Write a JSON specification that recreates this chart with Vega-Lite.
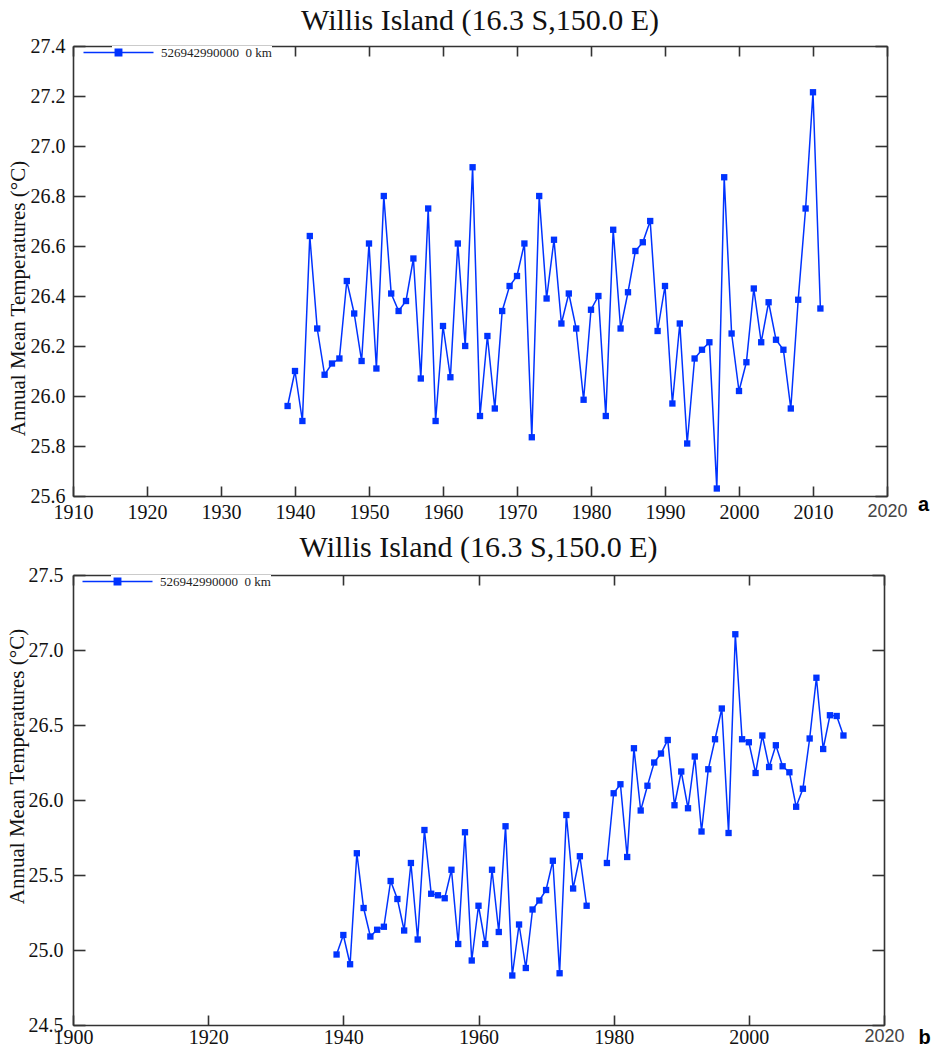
{
  "$schema": "https://vega.github.io/schema/vega-lite/v6.json",
  "background": "white",
  "padding": {"left": 6, "top": 6, "right": 0, "bottom": 0},
  "datasets": {
    "a": [
      {"year": 1939, "temp": 25.96, "seg": 1},
      {"year": 1940, "temp": 26.10, "seg": 1},
      {"year": 1941, "temp": 25.90, "seg": 1},
      {"year": 1942, "temp": 26.64, "seg": 1},
      {"year": 1943, "temp": 26.27, "seg": 1},
      {"year": 1944, "temp": 26.085, "seg": 1},
      {"year": 1945, "temp": 26.13, "seg": 1},
      {"year": 1946, "temp": 26.15, "seg": 1},
      {"year": 1947, "temp": 26.46, "seg": 1},
      {"year": 1948, "temp": 26.33, "seg": 1},
      {"year": 1949, "temp": 26.14, "seg": 1},
      {"year": 1950, "temp": 26.61, "seg": 1},
      {"year": 1951, "temp": 26.11, "seg": 1},
      {"year": 1952, "temp": 26.80, "seg": 1},
      {"year": 1953, "temp": 26.41, "seg": 1},
      {"year": 1954, "temp": 26.34, "seg": 1},
      {"year": 1955, "temp": 26.38, "seg": 1},
      {"year": 1956, "temp": 26.55, "seg": 1},
      {"year": 1957, "temp": 26.07, "seg": 1},
      {"year": 1958, "temp": 26.75, "seg": 1},
      {"year": 1959, "temp": 25.90, "seg": 1},
      {"year": 1960, "temp": 26.28, "seg": 1},
      {"year": 1961, "temp": 26.075, "seg": 1},
      {"year": 1962, "temp": 26.61, "seg": 1},
      {"year": 1963, "temp": 26.20, "seg": 1},
      {"year": 1964, "temp": 26.915, "seg": 1},
      {"year": 1965, "temp": 25.92, "seg": 1},
      {"year": 1966, "temp": 26.24, "seg": 1},
      {"year": 1967, "temp": 25.95, "seg": 1},
      {"year": 1968, "temp": 26.34, "seg": 1},
      {"year": 1969, "temp": 26.44, "seg": 1},
      {"year": 1970, "temp": 26.48, "seg": 1},
      {"year": 1971, "temp": 26.61, "seg": 1},
      {"year": 1972, "temp": 25.835, "seg": 1},
      {"year": 1973, "temp": 26.80, "seg": 1},
      {"year": 1974, "temp": 26.39, "seg": 1},
      {"year": 1975, "temp": 26.625, "seg": 1},
      {"year": 1976, "temp": 26.29, "seg": 1},
      {"year": 1977, "temp": 26.41, "seg": 1},
      {"year": 1978, "temp": 26.27, "seg": 1},
      {"year": 1979, "temp": 25.985, "seg": 1},
      {"year": 1980, "temp": 26.345, "seg": 1},
      {"year": 1981, "temp": 26.40, "seg": 1},
      {"year": 1982, "temp": 25.92, "seg": 1},
      {"year": 1983, "temp": 26.665, "seg": 1},
      {"year": 1984, "temp": 26.27, "seg": 1},
      {"year": 1985, "temp": 26.415, "seg": 1},
      {"year": 1986, "temp": 26.58, "seg": 1},
      {"year": 1987, "temp": 26.615, "seg": 1},
      {"year": 1988, "temp": 26.70, "seg": 1},
      {"year": 1989, "temp": 26.26, "seg": 1},
      {"year": 1990, "temp": 26.44, "seg": 1},
      {"year": 1991, "temp": 25.97, "seg": 1},
      {"year": 1992, "temp": 26.29, "seg": 1},
      {"year": 1993, "temp": 25.81, "seg": 1},
      {"year": 1994, "temp": 26.15, "seg": 1},
      {"year": 1995, "temp": 26.185, "seg": 1},
      {"year": 1996, "temp": 26.215, "seg": 1},
      {"year": 1997, "temp": 25.63, "seg": 1},
      {"year": 1998, "temp": 26.875, "seg": 1},
      {"year": 1999, "temp": 26.25, "seg": 1},
      {"year": 2000, "temp": 26.02, "seg": 1},
      {"year": 2001, "temp": 26.135, "seg": 1},
      {"year": 2002, "temp": 26.43, "seg": 1},
      {"year": 2003, "temp": 26.215, "seg": 1},
      {"year": 2004, "temp": 26.375, "seg": 1},
      {"year": 2005, "temp": 26.225, "seg": 1},
      {"year": 2006, "temp": 26.185, "seg": 1},
      {"year": 2007, "temp": 25.95, "seg": 1},
      {"year": 2008, "temp": 26.385, "seg": 1},
      {"year": 2009, "temp": 26.75, "seg": 1},
      {"year": 2010, "temp": 27.215, "seg": 1},
      {"year": 2011, "temp": 26.35, "seg": 1}
    ],
    "b": [
      {"year": 1939, "temp": 24.97, "seg": 1},
      {"year": 1940, "temp": 25.10, "seg": 1},
      {"year": 1941, "temp": 24.905, "seg": 1},
      {"year": 1942, "temp": 25.645, "seg": 1},
      {"year": 1943, "temp": 25.28, "seg": 1},
      {"year": 1944, "temp": 25.09, "seg": 1},
      {"year": 1945, "temp": 25.135, "seg": 1},
      {"year": 1946, "temp": 25.155, "seg": 1},
      {"year": 1947, "temp": 25.46, "seg": 1},
      {"year": 1948, "temp": 25.34, "seg": 1},
      {"year": 1949, "temp": 25.13, "seg": 1},
      {"year": 1950, "temp": 25.58, "seg": 1},
      {"year": 1951, "temp": 25.07, "seg": 1},
      {"year": 1952, "temp": 25.80, "seg": 1},
      {"year": 1953, "temp": 25.375, "seg": 1},
      {"year": 1954, "temp": 25.365, "seg": 1},
      {"year": 1955, "temp": 25.345, "seg": 1},
      {"year": 1956, "temp": 25.535, "seg": 1},
      {"year": 1957, "temp": 25.04, "seg": 1},
      {"year": 1958, "temp": 25.785, "seg": 1},
      {"year": 1959, "temp": 24.93, "seg": 1},
      {"year": 1960, "temp": 25.295, "seg": 1},
      {"year": 1961, "temp": 25.04, "seg": 1},
      {"year": 1962, "temp": 25.535, "seg": 1},
      {"year": 1963, "temp": 25.12, "seg": 1},
      {"year": 1964, "temp": 25.825, "seg": 1},
      {"year": 1965, "temp": 24.83, "seg": 1},
      {"year": 1966, "temp": 25.17, "seg": 1},
      {"year": 1967, "temp": 24.88, "seg": 1},
      {"year": 1968, "temp": 25.27, "seg": 1},
      {"year": 1969, "temp": 25.33, "seg": 1},
      {"year": 1970, "temp": 25.40, "seg": 1},
      {"year": 1971, "temp": 25.595, "seg": 1},
      {"year": 1972, "temp": 24.845, "seg": 1},
      {"year": 1973, "temp": 25.90, "seg": 1},
      {"year": 1974, "temp": 25.41, "seg": 1},
      {"year": 1975, "temp": 25.625, "seg": 1},
      {"year": 1976, "temp": 25.295, "seg": 1},
      {"year": 1979, "temp": 25.58, "seg": 2},
      {"year": 1980, "temp": 26.045, "seg": 2},
      {"year": 1981, "temp": 26.105, "seg": 2},
      {"year": 1982, "temp": 25.62, "seg": 2},
      {"year": 1983, "temp": 26.345, "seg": 2},
      {"year": 1984, "temp": 25.93, "seg": 2},
      {"year": 1985, "temp": 26.095, "seg": 2},
      {"year": 1986, "temp": 26.25, "seg": 2},
      {"year": 1987, "temp": 26.31, "seg": 2},
      {"year": 1988, "temp": 26.40, "seg": 2},
      {"year": 1989, "temp": 25.965, "seg": 2},
      {"year": 1990, "temp": 26.19, "seg": 2},
      {"year": 1991, "temp": 25.945, "seg": 2},
      {"year": 1992, "temp": 26.29, "seg": 2},
      {"year": 1993, "temp": 25.79, "seg": 2},
      {"year": 1994, "temp": 26.205, "seg": 2},
      {"year": 1995, "temp": 26.405, "seg": 2},
      {"year": 1996, "temp": 26.61, "seg": 2},
      {"year": 1997, "temp": 25.78, "seg": 2},
      {"year": 1998, "temp": 27.105, "seg": 2},
      {"year": 1999, "temp": 26.405, "seg": 2},
      {"year": 2000, "temp": 26.385, "seg": 2},
      {"year": 2001, "temp": 26.18, "seg": 2},
      {"year": 2002, "temp": 26.43, "seg": 2},
      {"year": 2003, "temp": 26.22, "seg": 2},
      {"year": 2004, "temp": 26.365, "seg": 2},
      {"year": 2005, "temp": 26.225, "seg": 2},
      {"year": 2006, "temp": 26.185, "seg": 2},
      {"year": 2007, "temp": 25.955, "seg": 2},
      {"year": 2008, "temp": 26.075, "seg": 2},
      {"year": 2009, "temp": 26.41, "seg": 2},
      {"year": 2010, "temp": 26.815, "seg": 2},
      {"year": 2011, "temp": 26.34, "seg": 2},
      {"year": 2012, "temp": 26.565, "seg": 2},
      {"year": 2013, "temp": 26.56, "seg": 2},
      {"year": 2014, "temp": 26.43, "seg": 2}
    ]
  },
  "config": {
    "view": {"stroke": null},
    "font": "Liberation Serif",
    "axis": {
      "grid": false,
      "domainColor": "#333333",
      "domainWidth": 1.6,
      "tickColor": "#333333",
      "tickWidth": 1.6,
      "labelFont": "Liberation Serif",
      "labelFontSize": 20,
      "labelColor": "#111111",
      "labelOverlap": false,
      "labelFlush": false,
      "labelBound": false,
      "titleFont": "Liberation Serif",
      "titleFontWeight": "normal",
      "titleColor": "#111111"
    },
    "title": {
      "font": "Liberation Serif",
      "fontSize": 30,
      "fontWeight": "normal",
      "color": "#111111",
      "anchor": "middle",
      "baseline": "alphabetic"
    },
    "legend": {
      "orient": "none",
      "padding": 0,
      "fillColor": "white",
      "symbolType": "M-8.75,0H8.75M-0.8,-0.8H0.8V0.8H-0.8Z",
      "symbolSize": 64,
      "symbolStrokeWidth": 1.5,
      "labelFont": "Liberation Serif",
      "labelFontSize": 13,
      "labelColor": "#222222",
      "legendY": 0,
      "title": null
    }
  },
  "spacing": 11,
  "vconcat": [
    {
      "title": {"text": "Willis Island (16.3 S,150.0 E)", "offset": 0},
      "width": 814,
      "height": 450,
      "data": {"name": "a"},
      "layer": [
        {
          "mark": {"type": "line", "strokeWidth": 1.5},
          "encoding": {
            "x": {
              "field": "year", "type": "quantitative",
              "scale": {"domain": [1910, 2020], "nice": false, "zero": false},
              "axis": {
                "orient": "bottom",
                "values": [1910, 1920, 1930, 1940, 1950, 1960, 1970, 1980, 1990, 2000, 2010, 2020],
                "format": "d",
                "tickSize": -10,
                "labelPadding": 16,
                "labelFont": {"condition": {"test": "datum.value == 2020", "value": "Liberation Sans"}, "value": "Liberation Serif"},
                "labelFontSize": {"condition": {"test": "datum.value == 2020", "value": 18}, "value": 20},
                "labelColor": {"condition": {"test": "datum.value == 2020", "value": "#444444"}, "value": "#111111"},
                "title": "a",
                "titleFont": "Liberation Sans",
                "titleFontWeight": "bold",
                "titleFontSize": 20,
                "titleColor": "#000000",
                "titleX": 850,
                "titleY": 14,
                "titleBaseline": "alphabetic",
                "titleAlign": "center"
              }
            },
            "y": {
              "field": "temp", "type": "quantitative",
              "scale": {"domain": [25.6, 27.4], "nice": false, "zero": false},
              "axis": {
                "orient": "left",
                "values": [25.6, 25.8, 26.0, 26.2, 26.4, 26.6, 26.8, 27.0, 27.2, 27.4],
                "format": ".1f",
                "tickSize": -12,
                "labelPadding": 20,
                "title": "Annual Mean Temperatures (°C)",
                "titleFontSize": 21,
                "titleX": -55,
                "titleY": 252,
                "titleBaseline": "middle",
                "titleAlign": "center"
              }
            },
            "detail": {"field": "seg", "type": "nominal"},
            "color": {
              "datum": "526942990000\u00a0\u00a00 km",
              "type": "nominal",
              "scale": {"range": ["#0033ff"]},
              "legend": {
                "legendX": 39,
                "legendY": 0,
                "labelOffset": 36,
                "encode": {"symbols": {"update": {"fill": {"value": "#0033ff"}, "stroke": {"value": "#0033ff"}, "strokeWidth": {"value": 1.5}}}}
              }
            }
          }
        },
        {
          "mark": {"type": "point", "shape": "square", "filled": true, "size": 40, "color": "#0033ff", "opacity": 1},
          "encoding": {
            "x": {
              "field": "year", "type": "quantitative",
              "scale": {"domain": [1910, 2020], "nice": false, "zero": false},
              "axis": {
                "orient": "top",
                "values": [1910, 1920, 1930, 1940, 1950, 1960, 1970, 1980, 1990, 2000, 2010, 2020],
                "tickSize": -10,
                "labels": false,
                "title": null
              }
            },
            "y": {
              "field": "temp", "type": "quantitative",
              "scale": {"domain": [25.6, 27.4], "nice": false, "zero": false},
              "axis": {
                "orient": "right",
                "values": [25.6, 25.8, 26.0, 26.2, 26.4, 26.6, 26.8, 27.0, 27.2, 27.4],
                "tickSize": -12,
                "labels": false,
                "title": null
              }
            }
          }
        }
      ],
      "resolve": {"axis": {"x": "independent", "y": "independent"}}
    },
    {
      "title": {"text": "Willis Island (16.3 S,150.0 E)", "offset": 2},
      "width": 811,
      "height": 450,
      "data": {"name": "b"},
      "layer": [
        {
          "mark": {"type": "line", "strokeWidth": 1.5},
          "encoding": {
            "x": {
              "field": "year", "type": "quantitative",
              "scale": {"domain": [1900, 2020], "nice": false, "zero": false},
              "axis": {
                "orient": "bottom",
                "values": [1900, 1920, 1940, 1960, 1980, 2000, 2020],
                "format": "d",
                "tickSize": -10,
                "labelPadding": 12,
                "labelFont": {"condition": {"test": "datum.value == 2020", "value": "Liberation Sans"}, "value": "Liberation Serif"},
                "labelFontSize": {"condition": {"test": "datum.value == 2020", "value": 18}, "value": 20},
                "labelColor": {"condition": {"test": "datum.value == 2020", "value": "#444444"}, "value": "#111111"},
                "title": "b",
                "titleFont": "Liberation Sans",
                "titleFontWeight": "bold",
                "titleFontSize": 20,
                "titleColor": "#000000",
                "titleX": 851,
                "titleY": 18,
                "titleBaseline": "alphabetic",
                "titleAlign": "center"
              }
            },
            "y": {
              "field": "temp", "type": "quantitative",
              "scale": {"domain": [24.5, 27.5], "nice": false, "zero": false},
              "axis": {
                "orient": "left",
                "values": [24.5, 25.0, 25.5, 26.0, 26.5, 27.0, 27.5],
                "format": ".1f",
                "tickSize": -12,
                "labelPadding": 22,
                "title": "Annual Mean Temperatures (°C)",
                "titleFontSize": 21,
                "titleX": -56,
                "titleY": 191,
                "titleBaseline": "middle",
                "titleAlign": "center"
              }
            },
            "detail": {"field": "seg", "type": "nominal"},
            "color": {
              "datum": "526942990000\u00a0\u00a00 km",
              "type": "nominal",
              "scale": {"range": ["#0033ff"]},
              "legend": {
                "legendX": 38,
                "legendY": 0,
                "labelOffset": 36,
                "encode": {"symbols": {"update": {"fill": {"value": "#0033ff"}, "stroke": {"value": "#0033ff"}, "strokeWidth": {"value": 1.5}}}}
              }
            }
          }
        },
        {
          "mark": {"type": "point", "shape": "square", "filled": true, "size": 40, "color": "#0033ff", "opacity": 1},
          "encoding": {
            "x": {
              "field": "year", "type": "quantitative",
              "scale": {"domain": [1900, 2020], "nice": false, "zero": false},
              "axis": {
                "orient": "top",
                "values": [1900, 1920, 1940, 1960, 1980, 2000, 2020],
                "tickSize": -10,
                "labels": false,
                "title": null
              }
            },
            "y": {
              "field": "temp", "type": "quantitative",
              "scale": {"domain": [24.5, 27.5], "nice": false, "zero": false},
              "axis": {
                "orient": "right",
                "values": [24.5, 25.0, 25.5, 26.0, 26.5, 27.0, 27.5],
                "tickSize": -12,
                "labels": false,
                "title": null
              }
            }
          }
        }
      ],
      "resolve": {"axis": {"x": "independent", "y": "independent"}}
    }
  ],
  "resolve": {
    "scale": {"x": "independent", "y": "independent", "color": "independent"},
    "legend": {"color": "independent"}
  }
}
